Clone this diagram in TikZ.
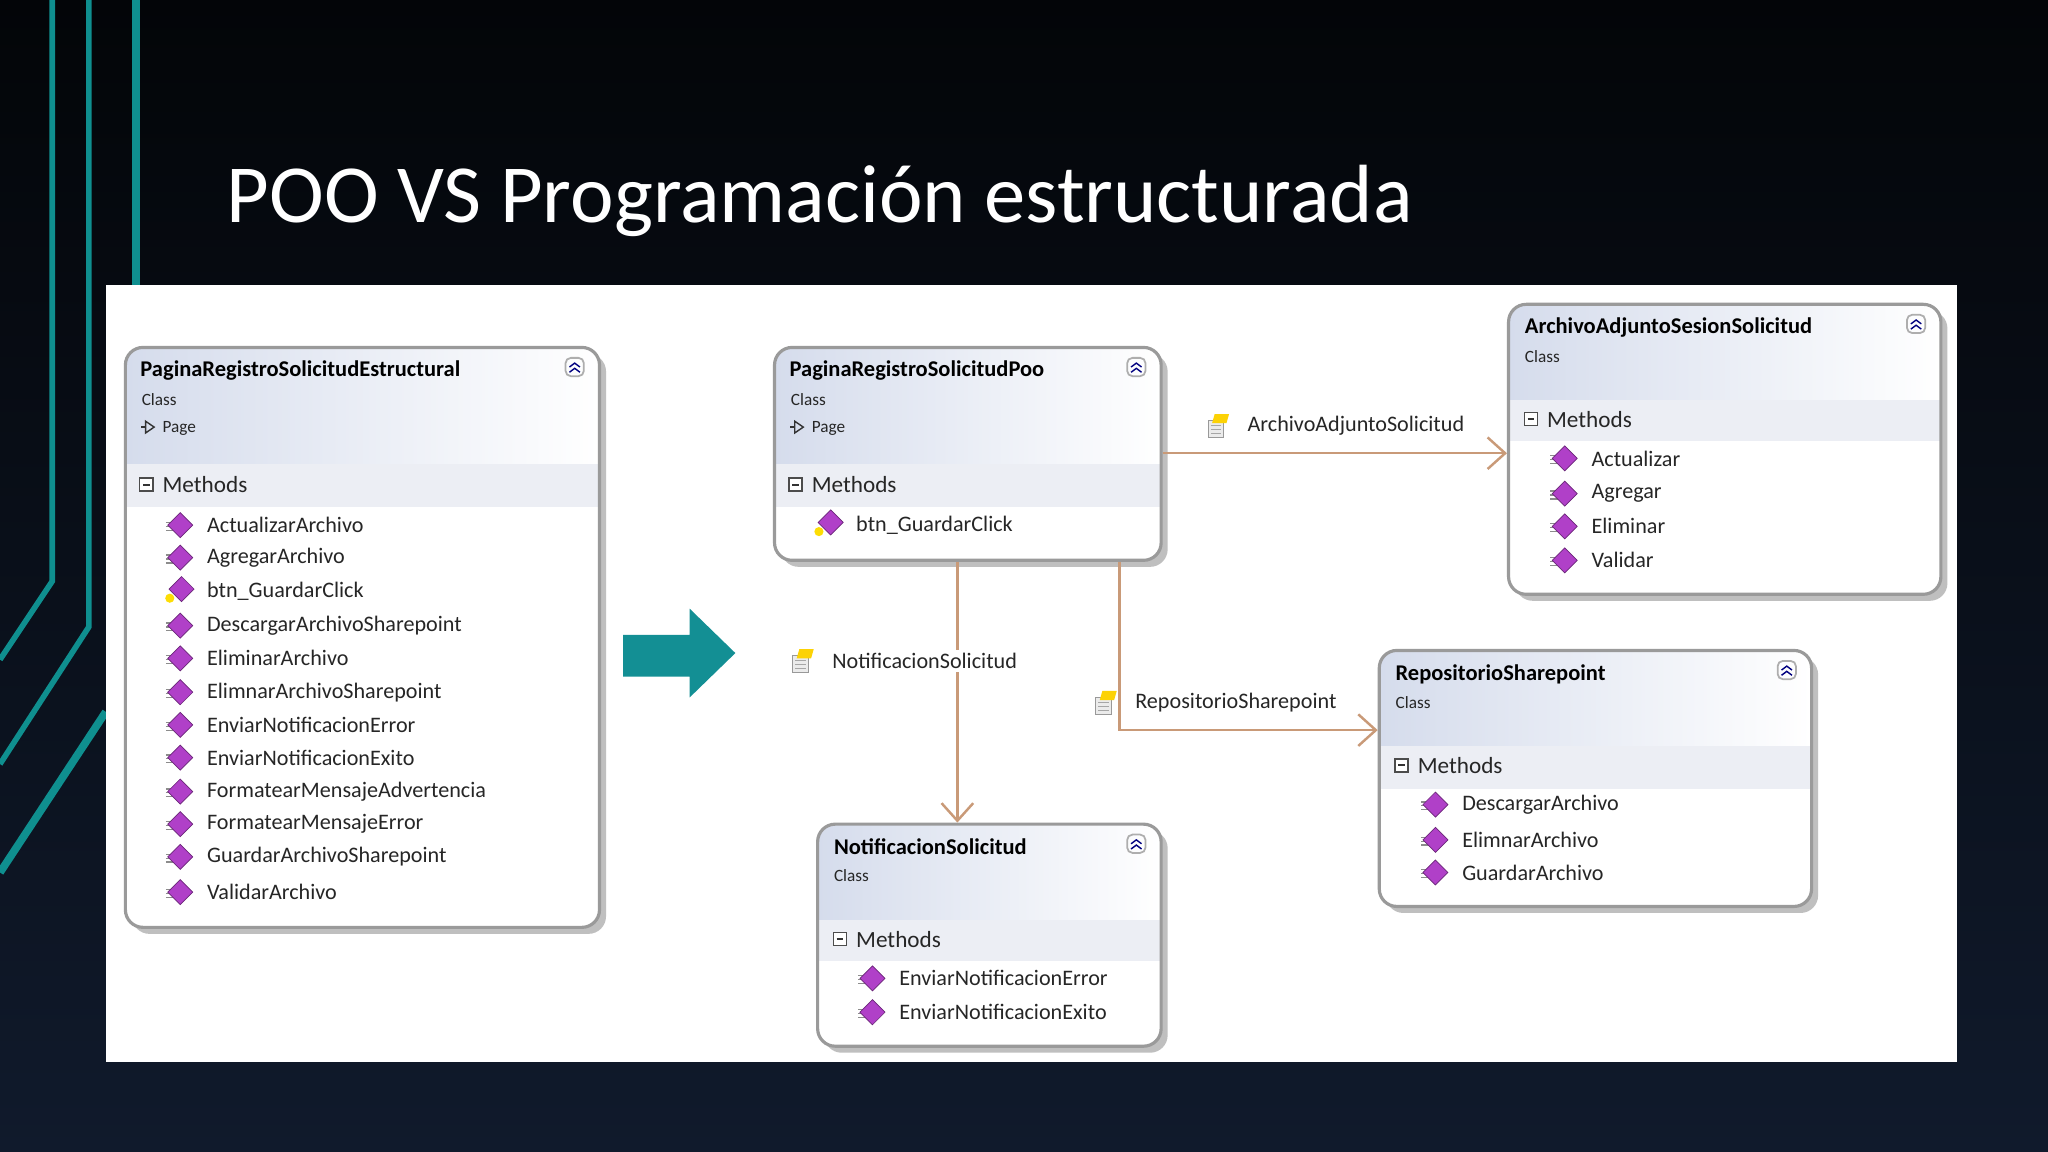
\documentclass[tikz,border=0pt]{standalone}
\usepackage{fontspec}
\setmainfont{Carlito}
\usetikzlibrary{fit,arrows.meta,shapes.geometric}
\newcommand\mksz[1]{\fontsize{#1}{#1}\selectfont}
\definecolor{bgtop}{HTML}{030508}
\definecolor{bgbot}{HTML}{101a2c}
\definecolor{teal1}{HTML}{0f8f8f}
\definecolor{tealarrow}{HTML}{138f94}
\definecolor{hdr}{HTML}{d5dcec}
\definecolor{band}{HTML}{eceef4}
\definecolor{boxline}{HTML}{9a9a9a}
\definecolor{conn}{HTML}{c99a78}
\definecolor{meth}{HTML}{b040c8}
\tikzset{
  boxfr/.style={draw=boxline, line width=0.9pt, rounded corners=5pt, inner sep=0pt},
  ttl/.style={anchor=west, font=\mksz{6.4}\bfseries, text=black, inner sep=0pt},
  small/.style={anchor=west, font=\mksz{4.9}, text=black!85, inner sep=0pt},
  mtxt/.style={anchor=west, font=\mksz{6.3}, text=black!85, inner sep=0pt},
  conline/.style={draw=conn, line width=0.7pt},
  lbl/.style={anchor=west, font=\mksz{6.3}, text=black!85, inner sep=1pt, fill=white},
}
% class box: name, x1,y1,x2,y2, header bottom, band bottom
\newcommand\clsbox[7]{%
  \fill[black!25, rounded corners=5pt] (#2+5,#3+5) rectangle (#4+5,#5+5);
  \fill[white, rounded corners=5pt] (#2,#3) rectangle (#4,#5);
  \begin{scope}
    \clip[rounded corners=5pt] (#2,#3) rectangle (#4,#5);
    \shade[left color=hdr, right color=white] (#2,#3) rectangle (#4,#6);
    \fill[band] (#2,#6) rectangle (#4,#7);
  \end{scope}
  \node[boxfr, fit={(#2,#3) (#4,#5)}] (#1) {};
  \draw[boxline!80, line width=0.5pt, rounded corners=1.5pt] (#4-26,#3+8) rectangle (#4-12,#3+22);
  \draw[blue!50!black, line width=0.4pt] (#4-23,#3+15) -- (#4-19,#3+12) -- (#4-15,#3+15) (#4-23,#3+19) -- (#4-19,#3+16) -- (#4-15,#3+19);
}
\newcommand\methhdr[2]{%
  \draw[black!70, line width=0.4pt, fill=white] (#1,#2-5) rectangle (#1+10,#2+5);
  \draw[black!80, line width=0.6pt] (#1+2.5,#2) -- (#1+7.5,#2);
  \node[mtxt, font=\mksz{6.6}] at (#1+17,#2) {Methods};
}
\newcommand\mico[2]{%
  \draw[black!45, line width=0.35pt] (#1-9,#2-2) -- (#1-3,#2-2) (#1-9,#2+1) -- (#1-3,#2+1) (#1-9,#2+4) -- (#1-3,#2+4);
  \node[diamond, fill=meth, draw=meth!60!black, line width=0.2pt, minimum width=9pt*0.4, minimum height=12pt*0.4, inner sep=1.8pt] at (#1+2,#2) {};
}
\newcommand\meth[3]{\mico{#1-22}{#2}\node[mtxt] at (#1,#2) {#3};}
\newcommand\bmeth[3]{%
  \fill[yellow!80!orange] (#1-28,#2+5) circle (3.5);
  \node[diamond, fill=meth, draw=meth!60!black, line width=0.2pt, inner sep=1.8pt] at (#1-19,#2-2) {};
  \node[mtxt] at (#1,#2) {#3};}
\newcommand\pico[2]{%
  \draw[black!40, fill=black!8, line width=0.3pt] (#1-7,#2-4) rectangle (#1+5,#2+9);
  \draw[black!35, line width=0.3pt] (#1-5,#2) -- (#1+3,#2) (#1-5,#2+3) -- (#1+3,#2+3) (#1-5,#2+6) -- (#1+3,#2+6);
  \fill[yellow!70!orange] (#1-2,#2-9) -- (#1+9,#2-9) -- (#1+7,#2-2) -- (#1-4,#2-2) -- cycle;
}
\begin{document}
\begin{tikzpicture}[x=0.01306cm,y=-0.01306cm]
\useasboundingbox (0,0) rectangle (1568,882);
\shade[top color=bgtop, bottom color=bgbot] (0,0) rectangle (1568,882);
% teal decorative lines
\draw[teal1, line width=1.6pt] (40,0) -- (40,445) -- (0,505);
\draw[teal1, line width=1.6pt] (68,0) -- (68,480) -- (0,585);
\draw[teal1, line width=2.2pt] (104,0) -- (104,218);
\draw[teal1, line width=2.2pt] (81,545) -- (0,668);
% title
\node[anchor=base west, text=white, font=\mksz{23.5}, inner sep=0pt] (title) at (173,170) {POO VS Programación estructurada};
% white panel
\fill[white] (81,218) rectangle (1498,813);

% Box A
\clsbox{A}{96}{266}{459}{710}{355}{388}
\node[ttl] at (107,284) {PaginaRegistroSolicitudEstructural};
\node[small] at (108,306) {Class};
\draw[black!80, line width=0.4pt, -{Triangle[open, length=3pt, width=4pt]}] (108,327) -- (119,327);
\node[small] at (124,328) {Page};
\methhdr{107}{371}
\meth{158}{402}{ActualizarArchivo}
\meth{158}{427}{AgregarArchivo}
\bmeth{158}{453}{btn\_GuardarClick}
\meth{158}{479}{DescargarArchivoSharepoint}
\meth{158}{504}{EliminarArchivo}
\meth{158}{530}{ElimnarArchivoSharepoint}
\meth{158}{555}{EnviarNotificacionError}
\meth{158}{580}{EnviarNotificacionExito}
\meth{158}{606}{FormatearMensajeAdvertencia}
\meth{158}{631}{FormatearMensajeError}
\meth{158}{656}{GuardarArchivoSharepoint}
\meth{158}{683}{ValidarArchivo}

% big arrow
\fill[tealarrow] (477,486) -- (528,486) -- (528,466) -- (563,500) -- (528,534) -- (528,518) -- (477,518) -- cycle;
\node[inner sep=0pt] (bigarrow) at (520,500) {};

% Box B
\clsbox{B}{593}{266}{889}{429}{355}{388}
\node[ttl] at (604,284) {PaginaRegistroSolicitudPoo};
\node[small] at (605,306) {Class};
\draw[black!80, line width=0.4pt, -{Triangle[open, length=3pt, width=4pt]}] (605,327) -- (616,327);
\node[small] at (621,328) {Page};
\methhdr{604}{371}
\bmeth{655}{402}{btn\_GuardarClick}

% Box C
\clsbox{C}{1155}{233}{1486}{455}{306}{338}
\node[ttl] at (1167,251) {ArchivoAdjuntoSesionSolicitud};
\node[small] at (1167,273) {Class};
\methhdr{1167}{321}
\meth{1218}{351}{Actualizar}
\meth{1218}{378}{Agregar}
\meth{1218}{403}{Eliminar}
\meth{1218}{429}{Validar}

% Box D
\clsbox{D}{1056}{498}{1387}{694}{571}{604}
\node[ttl] at (1068,516) {RepositorioSharepoint};
\node[small] at (1068,538) {Class};
\methhdr{1068}{586}
\meth{1119}{616}{DescargarArchivo}
\meth{1119}{643}{ElimnarArchivo}
\meth{1119}{668}{GuardarArchivo}

% Box E
\clsbox{E}{626}{631}{889}{801}{704}{736}
\node[ttl] at (638,648) {NotificacionSolicitud};
\node[small] at (638,670) {Class};
\methhdr{638}{719}
\meth{688}{749}{EnviarNotificacionError}
\meth{688}{775}{EnviarNotificacionExito}

% connectors
\coordinate (b1) at (B.east |- 0,347);
\coordinate (c1) at (C.west |- 0,347);
\draw[conline, -{Straight Barb[length=5pt, width=9pt]}] (b1) -- (c1);
\pico{932}{326}
\node[lbl] at (952,326) {ArchivoAdjuntoSolicitud};

\coordinate (b2) at (B.south -| 733,0);
\coordinate (e2) at (E.north -| 733,0);
\draw[conline, -{Straight Barb[length=5pt, width=9pt]}] (b2) -- (e2);
\pico{614}{506}
\node[lbl] at (634,506) {NotificacionSolicitud};

\coordinate (b3) at (B.south -| 857,0);
\coordinate (d3) at (D.west |- 0,559);
\draw[conline, -{Straight Barb[length=5pt, width=9pt]}] (b3) |- (d3);
\pico{846}{538}
\node[lbl] at (866,538) {RepositorioSharepoint};
\end{tikzpicture}
\end{document}
